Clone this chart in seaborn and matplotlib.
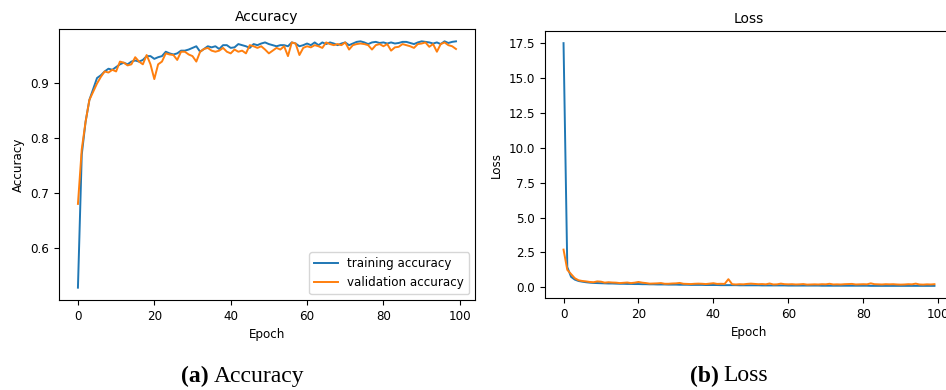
import matplotlib as mpl
import matplotlib.pyplot as plt
import seaborn as sns

mpl.use('Agg')

epochs = list(range(100))

train_acc = [
    0.527, 0.770, 0.830, 0.870, 0.890, 0.910, 0.915, 0.922, 0.927, 0.925,
    0.930, 0.935, 0.938, 0.935, 0.940, 0.942, 0.940, 0.943, 0.950, 0.950,
    0.945, 0.948, 0.950, 0.958, 0.955, 0.953, 0.955, 0.960, 0.960, 0.962,
    0.965, 0.968, 0.958, 0.963, 0.968, 0.966, 0.968, 0.963, 0.970, 0.970,
    0.965, 0.966, 0.972, 0.970, 0.968, 0.965, 0.972, 0.970, 0.973, 0.975,
    0.972, 0.970, 0.968, 0.970, 0.970, 0.968, 0.975, 0.973, 0.968, 0.970,
    0.973, 0.970, 0.975, 0.970, 0.975, 0.972, 0.975, 0.973, 0.970, 0.973,
    0.975, 0.970, 0.973, 0.976, 0.977, 0.975, 0.972, 0.975, 0.976, 0.974,
    0.975, 0.973, 0.975, 0.973, 0.974, 0.976, 0.976, 0.974, 0.972, 0.975,
    0.977, 0.976, 0.975, 0.973, 0.975, 0.972, 0.977, 0.974, 0.976, 0.977,
]

val_acc = [
    0.680, 0.780, 0.830, 0.870, 0.885, 0.900, 0.912, 0.922, 0.920, 0.925,
    0.922, 0.940, 0.938, 0.933, 0.935, 0.948, 0.940, 0.935, 0.952, 0.935,
    0.908, 0.935, 0.940, 0.955, 0.953, 0.952, 0.943, 0.958, 0.958, 0.953,
    0.950, 0.940, 0.958, 0.963, 0.965, 0.960, 0.958, 0.960, 0.965, 0.958,
    0.955, 0.962, 0.958, 0.960, 0.955, 0.970, 0.968, 0.965, 0.968, 0.962,
    0.955, 0.960, 0.965, 0.962, 0.968, 0.950, 0.975, 0.973, 0.952, 0.965,
    0.968, 0.966, 0.970, 0.968, 0.965, 0.975, 0.972, 0.970, 0.972, 0.970,
    0.975, 0.962, 0.970, 0.972, 0.973, 0.972, 0.970, 0.962, 0.970, 0.972,
    0.968, 0.972, 0.960, 0.966, 0.967, 0.972, 0.970, 0.968, 0.965, 0.972,
    0.973, 0.975, 0.967, 0.972, 0.958, 0.972, 0.975, 0.970, 0.968, 0.963,
]

train_loss = [
    17.5, 1.45, 0.75, 0.55, 0.45, 0.40, 0.36, 0.33, 0.31, 0.30,
    0.29, 0.28, 0.27, 0.27, 0.26, 0.25, 0.25, 0.24, 0.24, 0.23,
    0.23, 0.22, 0.22, 0.21, 0.21, 0.20, 0.20, 0.20, 0.19, 0.19,
    0.19, 0.18, 0.18, 0.18, 0.17, 0.17, 0.17, 0.17, 0.16, 0.16,
    0.16, 0.16, 0.15, 0.15, 0.15, 0.15, 0.15, 0.14, 0.14, 0.14,
    0.14, 0.14, 0.14, 0.13, 0.13, 0.13, 0.13, 0.13, 0.13, 0.13,
    0.12, 0.12, 0.12, 0.12, 0.12, 0.12, 0.12, 0.12, 0.12, 0.11,
    0.11, 0.11, 0.11, 0.11, 0.11, 0.11, 0.11, 0.11, 0.11, 0.11,
    0.11, 0.11, 0.10, 0.10, 0.10, 0.10, 0.10, 0.10, 0.10, 0.10,
    0.10, 0.10, 0.10, 0.10, 0.10, 0.10, 0.10, 0.10, 0.10, 0.10,
]

val_loss = [
    2.70, 1.25, 0.95, 0.65, 0.50, 0.45, 0.42, 0.38, 0.36, 0.42,
    0.40, 0.33, 0.36, 0.34, 0.33, 0.30, 0.32, 0.34, 0.30, 0.33,
    0.38, 0.33, 0.30, 0.26, 0.27, 0.28, 0.30, 0.25, 0.25, 0.27,
    0.28, 0.31, 0.25, 0.24, 0.23, 0.25, 0.26, 0.25, 0.23, 0.26,
    0.29, 0.24, 0.25, 0.24, 0.58, 0.22, 0.20, 0.22, 0.21, 0.24,
    0.26, 0.24, 0.22, 0.23, 0.21, 0.27, 0.20, 0.21, 0.26, 0.22,
    0.21, 0.22, 0.20, 0.21, 0.23, 0.19, 0.20, 0.21, 0.20, 0.22,
    0.21, 0.25, 0.20, 0.21, 0.20, 0.22, 0.23, 0.24, 0.20, 0.21,
    0.22, 0.21, 0.28, 0.22, 0.21, 0.20, 0.22, 0.21, 0.22, 0.20,
    0.19, 0.20, 0.22, 0.21, 0.26, 0.20, 0.19, 0.21, 0.20, 0.22,
]

plt.rcParams['font.family'] = ['DejaVu Sans']
fs = 8.6
lw = 1.4
blue, orange = '#1f77b4', '#ff7f0e'

fig = plt.figure(figsize=(9.46, 3.9), dpi=100)
ax1 = fig.add_axes([0.0624, 0.2308, 0.4396, 0.6948])
ax2 = fig.add_axes([0.5761, 0.2359, 0.4313, 0.6846])

sns.lineplot(x=epochs, y=train_acc, ax=ax1, color=blue, linewidth=lw, label='training accuracy')
sns.lineplot(x=epochs, y=val_acc, ax=ax1, color=orange, linewidth=lw, label='validation accuracy')
ax1.set_title('Accuracy', fontsize=10)
ax1.set_xlabel('Epoch', fontsize=fs)
ax1.set_ylabel('Accuracy', fontsize=fs)
ax1.legend(loc='lower right', fontsize=fs)

sns.lineplot(x=epochs, y=train_loss, ax=ax2, color=blue, linewidth=lw)
sns.lineplot(x=epochs, y=val_loss, ax=ax2, color=orange, linewidth=lw)
ax2.set_title('Loss', fontsize=10)
ax2.set_xlabel('Epoch', fontsize=fs)
ax2.set_ylabel('Loss', fontsize=fs)

for ax in (ax1, ax2):
    ax.tick_params(labelsize=fs)
    ax.margins(x=0.05, y=0.05)

cap = dict(family='Liberation Serif', fontsize=17, va='center')
fig.text(0.2205, 0.034, '(a)', ha='right', weight='bold', **cap)
fig.text(0.2260, 0.034, 'Accuracy', ha='left', **cap)
fig.text(0.7595, 0.036, '(b)', ha='right', weight='bold', **cap)
fig.text(0.7650, 0.036, 'Loss', ha='left', **cap)

fig.savefig('out.png', dpi=100)
plt.close(fig)
